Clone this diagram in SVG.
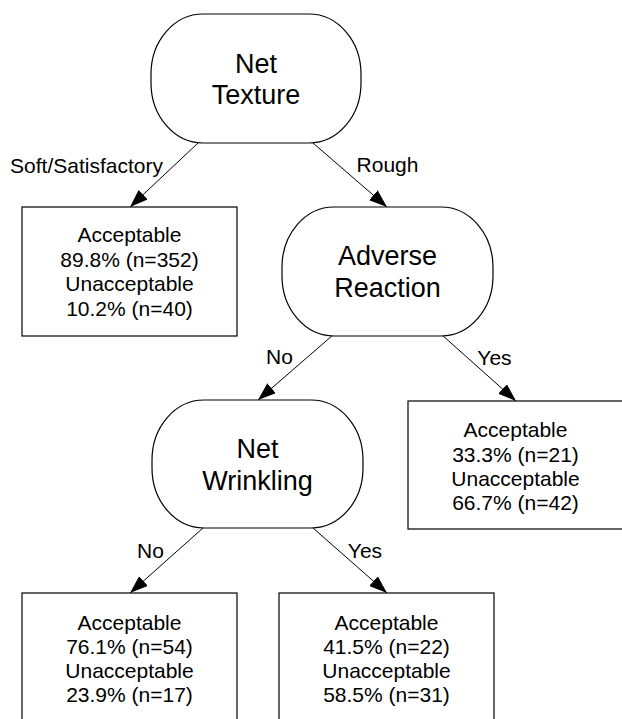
<svg xmlns="http://www.w3.org/2000/svg" width="622" height="719" viewBox="0 0 622 719">
<style>
  .node { fill: #ffffff; stroke: #000000; stroke-width: 1.2; }
  .edge { stroke: #000000; stroke-width: 1; fill: none; }
  .t { font-family: "Liberation Sans", Arial, Helvetica, sans-serif; fill: #000000; text-anchor: middle; }
  .big { font-size: 27px; }
  .small { font-size: 21px; }
</style>
<defs>
  <marker id="arr" markerUnits="userSpaceOnUse" markerWidth="20" markerHeight="14" refX="18" refY="6.5" orient="auto">
    <path d="M0,0 L18,6.5 L0,13 Z" fill="#000000"/>
  </marker>
</defs>
<rect width="622" height="719" fill="#ffffff"/>

<g id="connectors">
  <line class="edge" x1="198" y1="143" x2="130" y2="207" marker-end="url(#arr)"/>
  <line class="edge" x1="313" y1="143" x2="387" y2="207" marker-end="url(#arr)"/>
  <line class="edge" x1="333" y1="335" x2="258" y2="400" marker-end="url(#arr)"/>
  <line class="edge" x1="442" y1="335" x2="516" y2="401" marker-end="url(#arr)"/>
  <line class="edge" x1="203" y1="528" x2="130" y2="593" marker-end="url(#arr)"/>
  <line class="edge" x1="313" y1="528" x2="387" y2="593" marker-end="url(#arr)"/>
  <text class="t small" x="86.5" y="173">Soft/Satisfactory</text>
  <text class="t small" x="387.5" y="172">Rough</text>
  <text class="t small" x="279.5" y="364">No</text>
  <text class="t small" x="494.5" y="365">Yes</text>
  <text class="t small" x="150.5" y="558">No</text>
  <text class="t small" x="365" y="558">Yes</text>
</g>

<g id="net-texture">
  <rect class="node" x="151" y="14" width="210" height="129" rx="52" ry="60"/>
  <text class="t big" x="256" y="73">Net</text>
  <text class="t big" x="256" y="104">Texture</text>
</g>

<g id="leaf-soft">
  <rect class="node" x="22" y="207" width="215" height="129"/>
  <text class="t small" x="129.5" y="242">Acceptable</text>
  <text class="t small" x="129.5" y="266.5">89.8% (n=352)</text>
  <text class="t small" x="129.5" y="291">Unacceptable</text>
  <text class="t small" x="129.5" y="315.5">10.2% (n=40)</text>
</g>

<g id="adverse-reaction">
  <rect class="node" x="282" y="207" width="211" height="129" rx="52" ry="60"/>
  <text class="t big" x="387.5" y="265">Adverse</text>
  <text class="t big" x="387.5" y="297">Reaction</text>
</g>

<g id="net-wrinkling">
  <rect class="node" x="152" y="400" width="211" height="128" rx="52" ry="60"/>
  <text class="t big" x="257.5" y="458">Net</text>
  <text class="t big" x="257.5" y="490">Wrinkling</text>
</g>

<g id="leaf-adverse-yes">
  <rect class="node" x="408" y="401" width="215" height="128"/>
  <text class="t small" x="515.5" y="437">Acceptable</text>
  <text class="t small" x="515.5" y="461.5">33.3% (n=21)</text>
  <text class="t small" x="515.5" y="486">Unacceptable</text>
  <text class="t small" x="515.5" y="510">66.7% (n=42)</text>
</g>

<g id="leaf-wrinkling-no">
  <rect class="node" x="22" y="593" width="215" height="130"/>
  <text class="t small" x="129.5" y="630">Acceptable</text>
  <text class="t small" x="129.5" y="654">76.1% (n=54)</text>
  <text class="t small" x="129.5" y="678">Unacceptable</text>
  <text class="t small" x="129.5" y="702">23.9% (n=17)</text>
</g>

<g id="leaf-wrinkling-yes">
  <rect class="node" x="279" y="593" width="215" height="130"/>
  <text class="t small" x="386.5" y="630">Acceptable</text>
  <text class="t small" x="386.5" y="654">41.5% (n=22)</text>
  <text class="t small" x="386.5" y="678">Unacceptable</text>
  <text class="t small" x="386.5" y="702">58.5% (n=31)</text>
</g>
</svg>
